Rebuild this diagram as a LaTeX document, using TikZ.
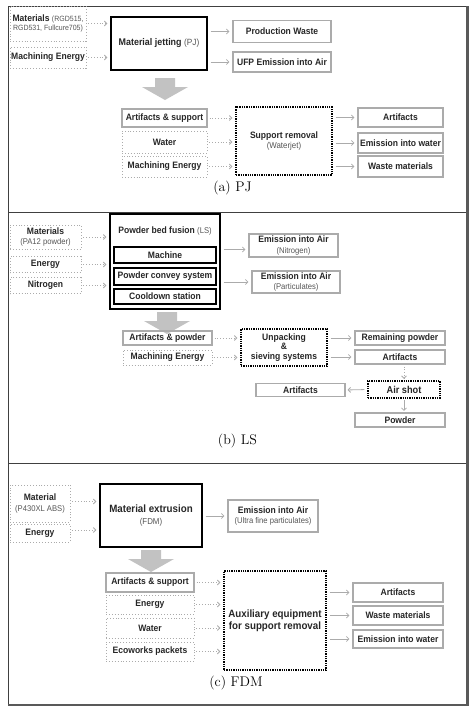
\documentclass[tikz,border=0pt]{standalone}
\usepackage{fontspec}
\newfontfamily\boxfont[FakeStretch=0.92]{Liberation Sans}
\usetikzlibrary{arrows.meta}

\definecolor{boxgray}{HTML}{ABABAB}
\definecolor{txtgray}{HTML}{555555}
\definecolor{fatgray}{HTML}{C2C2C2}

% small grey remark inside a box
\newcommand\subtxt[1]{{\mdseries\fontsize{8.3}{9}\selectfont\color{txtgray}#1}}
% broad grey arrow between two stages: centre x, top y
\newcommand\fatarrow[2]{\fill[fatgray] (#1-10,#2) -- (#1+10,#2) -- (#1+10,#2+9) -- (#1+23,#2+9) -- (#1,#2+22) -- (#1-23,#2+9) -- (#1-10,#2+9) -- cycle;}

\tikzset{
  lbl/.style={font=\boxfont\bfseries\fontsize{9.3}{10.2}\selectfont, text=black!85, align=center, inner sep=0pt},
  bigtxt/.style={font=\boxfont\bfseries\fontsize{10.6}{12.4}\selectfont},
  graybox/.style={lbl, draw=boxgray, line width=1.1pt},
  dotbox/.style={lbl, draw=boxgray, dotted, line width=0.9pt},
  procbox/.style={lbl, draw=black, line width=1.3pt},
  dotproc/.style={lbl, draw=black, densely dotted, line width=1.3pt},
  inarrow/.style={draw=boxgray, dotted, line width=0.8pt, -{Straight Barb[length=2.5pt,width=5pt]}, shorten <=2pt, shorten >=3pt},
  outarrow/.style={draw=boxgray, line width=0.8pt, -{Straight Barb[length=2.5pt,width=5pt]}, shorten <=3pt, shorten >=3pt},
  caption/.style={font=\fontsize{14}{14}\selectfont, inner sep=0pt}
}

\begin{document}
\begin{tikzpicture}[x=1pt, y=-1pt]
  \useasboundingbox (0,0) rectangle (476,712);

  %%%%% FRAME %%%%%
  \draw[black!75, line width=0.9pt] (8,6) rectangle (466,704);
  \draw[black!75, line width=0.9pt] (8,212) -- (466,212);
  \draw[black!75, line width=0.9pt] (8,463) -- (466,463);
  \draw[black!65, line width=2.5pt] (467.5,6) -- (467.5,705) -- (8,705);

  %%%%% (a) PJ %%%%%
  \node[dotbox, minimum width=76, minimum height=35] (pjmat) at (48,23.5) {Materials {\subtxt{\fontsize{7.6}{8.6}\selectfont(RGD515,}}\\[-1pt]\subtxt{\fontsize{7.6}{8.6}\selectfont RGD531, Fullcure705)}};
  \node[dotbox, minimum width=76, minimum height=21] (pjen) at (48,57.5) {Machining Energy};
  \node[procbox, minimum width=96, minimum height=53, font=\boxfont\bfseries\fontsize{9.7}{11}\selectfont] (pjproc) at (159,43.5) {Material jetting {\mdseries\fontsize{9}{10}\selectfont\color{txtgray}(PJ)}};
  \node[graybox, minimum width=98, minimum height=22] (pjwaste) at (282,31.5) {Production Waste};
  \node[graybox, minimum width=98, minimum height=20] (pjufp) at (282,62) {UFP Emission into Air};

  \draw[inarrow] (pjmat.east) -- (pjmat.east -| pjproc.west);
  \draw[inarrow] (pjen.east) -- (pjen.east -| pjproc.west);
  \draw[outarrow] (pjproc.east |- pjwaste.west) -- (pjwaste.west);
  \draw[outarrow] (pjproc.east |- pjufp.west) -- (pjufp.west);

  \fatarrow{165}{78}

  \node[graybox, minimum width=85, minimum height=18] (pjart) at (164.5,118) {Artifacts \& support};
  \node[dotbox, minimum width=85, minimum height=22] (pjwat) at (164.5,142) {Water};
  \node[dotbox, minimum width=85, minimum height=21] (pjmen) at (164.5,166.5) {Machining Energy};
  \node[dotproc, minimum width=96, minimum height=68] (pjsup) at (284,141) {Support removal\\\subtxt{\fontsize{8.6}{10}\selectfont(Waterjet)}};
  \node[graybox, minimum width=85, minimum height=19] (pjoart) at (400.5,117.5) {Artifacts};
  \node[graybox, minimum width=85, minimum height=20] (pjowat) at (400.5,143) {Emission into water};
  \node[graybox, minimum width=85, minimum height=21] (pjowst) at (400.5,166.5) {Waste materials};

  \draw[inarrow] (pjart.east) -- (pjart.east -| pjsup.west);
  \draw[inarrow] (pjwat.east) -- (pjwat.east -| pjsup.west);
  \draw[inarrow] (pjmen.east) -- (pjmen.east -| pjsup.west);
  \draw[outarrow] (pjsup.east |- pjoart.west) -- (pjoart.west);
  \draw[outarrow] (pjsup.east |- pjowat.west) -- (pjowat.west);
  \draw[outarrow] (pjsup.east |- pjowst.west) -- (pjowst.west);

  \node[caption] (capa) at (232.5,188) {(a) PJ};

  %%%%% (b) LS %%%%%
  \node[dotbox, minimum width=71, minimum height=24] (lsmat) at (45.5,237) {Materials\\\subtxt{(PA12 powder)}};
  \node[dotbox, minimum width=71, minimum height=16] (lsen) at (45.5,264.5) {Energy};
  \node[dotbox, minimum width=71, minimum height=16] (lsnit) at (45.5,285.5) {Nitrogen};
  \node[procbox, minimum width=110, minimum height=95] (lsproc) at (165,261.5) {};
  \node[lbl] (lstitle) at (165,231) {Powder bed fusion \subtxt{(LS)}};
  \node[procbox, line width=1.1pt, minimum width=102, minimum height=16] (lsmach) at (165,255) {Machine};
  \node[procbox, line width=1.1pt, minimum width=102, minimum height=17] (lsconv) at (165,276.5) {Powder convey system};
  \node[procbox, line width=1.1pt, minimum width=102, minimum height=15] (lscool) at (165,296.5) {Cooldown station};
  \node[graybox, minimum width=89, minimum height=23] (lsair1) at (293.5,245.5) {Emission into Air\\\subtxt{(Nitrogen)}};
  \node[graybox, minimum width=88, minimum height=22] (lsair2) at (296,282) {Emission into Air\\\subtxt{(Particulates)}};

  \draw[inarrow] (lsmat.east) -- (lsmat.east -| lsproc.west);
  \draw[inarrow] (lsen.east) -- (lsen.east -| lsproc.west);
  \draw[inarrow] (lsnit.east) -- (lsnit.east -| lsproc.west);
  \draw[outarrow] ([yshift=-4pt]lsproc.east |- lsair1.west) -- ([yshift=-4pt]lsair1.west);
  \draw[outarrow] (lsproc.east |- lsair2.west) -- (lsair2.west);

  \fatarrow{167}{312}

  \node[graybox, minimum width=89, minimum height=14] (lsart) at (167.5,338) {Artifacts \& powder};
  \node[dotbox, minimum width=89, minimum height=15] (lsmen) at (167.5,357.5) {Machining Energy};
  \node[dotproc, minimum width=86, minimum height=37, font=\boxfont\bfseries\fontsize{9.3}{9.6}\selectfont] (lsunp) at (284,347.5) {Unpacking\\\&\\sieving systems};
  \node[graybox, minimum width=90, minimum height=14] (lsrem) at (400,338) {Remaining powder};
  \node[graybox, minimum width=90, minimum height=14] (lsoart) at (400,357) {Artifacts};
  \node[dotproc, minimum width=72, minimum height=17, font=\boxfont\bfseries\fontsize{10}{11}\selectfont] (lsshot) at (404,389.5) {Air shot};
  \node[graybox, minimum width=89, minimum height=13] (lsart3) at (300.5,390) {Artifacts};
  \node[graybox, minimum width=90, minimum height=14] (lspow) at (400,420) {Powder};

  \draw[inarrow] (lsart.east) -- (lsart.east -| lsunp.west);
  \draw[inarrow] (lsmen.east) -- (lsmen.east -| lsunp.west);
  \draw[outarrow] (lsunp.east |- lsrem.west) -- (lsrem.west);
  \draw[outarrow] (lsunp.east |- lsoart.west) -- (lsoart.west);
  \draw[inarrow, shorten >=1.5pt] (lsshot.north |- lsoart.south) -- (lsshot.north);
  \draw[outarrow, shorten >=2pt] (lsshot.west) -- (lsart3.east);
  \draw[outarrow, shorten <=1.5pt, shorten >=1.5pt] (lsshot.south) -- (lsshot.south |- lspow.north);

  \node[caption] (capb) at (237.5,441) {(b) LS};

  %%%%% (c) FDM %%%%%
  \node[dotbox, minimum width=60, minimum height=37] (fdmmat) at (40,503.5) {Material\\\subtxt{(P430XL ABS)}};
  \node[dotbox, minimum width=60, minimum height=18] (fdmen) at (40,533) {Energy};
  \node[procbox, bigtxt, minimum width=102, minimum height=63] (fdmproc) at (151,515.5) {Material extrusion\\\subtxt{\fontsize{8.6}{10}\selectfont(FDM)}};
  \node[graybox, minimum width=90, minimum height=32] (fdmair) at (273,516) {Emission into Air\\\subtxt{(Ultra fine particulates)}};

  \draw[inarrow] ([yshift=2pt]fdmmat.east) -- ([yshift=2pt]fdmmat.east -| fdmproc.west);
  \draw[inarrow] ([yshift=3pt]fdmen.east) -- ([yshift=3pt]fdmen.east -| fdmproc.west);
  \draw[outarrow] (fdmproc.east |- fdmair.west) -- (fdmair.west);

  \fatarrow{151}{550}

  \node[graybox, minimum width=88, minimum height=19] (fdmart) at (150,582.5) {Artifacts \& support};
  \node[dotbox, minimum width=88, minimum height=19] (fdmen2) at (150,604.5) {Energy};
  \node[dotbox, minimum width=88, minimum height=20] (fdmwat) at (150,628) {Water};
  \node[dotbox, minimum width=88, minimum height=19] (fdmeco) at (150,651.5) {Ecoworks packets};
  \node[dotproc, bigtxt, minimum width=102, minimum height=99] (fdmaux) at (275,620.5) {Auxiliary equipment\\for support removal};
  \node[graybox, minimum width=90, minimum height=19] (fdmoart) at (398,592.5) {Artifacts};
  \node[graybox, minimum width=90, minimum height=19] (fdmowst) at (398,615.5) {Waste materials};
  \node[graybox, minimum width=90, minimum height=18] (fdmowat) at (398,639) {Emission into water};

  \draw[inarrow] (fdmart.east) -- (fdmart.east -| fdmaux.west);
  \draw[inarrow] (fdmen2.east) -- (fdmen2.east -| fdmaux.west);
  \draw[inarrow] (fdmwat.east) -- (fdmwat.east -| fdmaux.west);
  \draw[inarrow] (fdmeco.east) -- (fdmeco.east -| fdmaux.west);
  \draw[outarrow] (fdmaux.east |- fdmoart.west) -- (fdmoart.west);
  \draw[outarrow] (fdmaux.east |- fdmowst.west) -- (fdmowst.west);
  \draw[outarrow] (fdmaux.east |- fdmowat.west) -- (fdmowat.west);

  \node[caption] (capc) at (236,683) {(c) FDM};
\end{tikzpicture}
\end{document}
